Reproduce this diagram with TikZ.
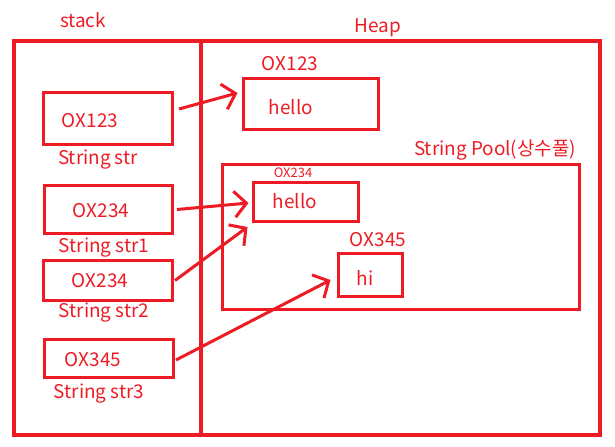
\documentclass[tikz,border=0pt]{standalone}
\usepackage{fontspec}
\setmainfont{Noto Sans CJK KR}
\usetikzlibrary{arrows.meta}
\definecolor{pr}{HTML}{ED1C24}
\begin{document}
\begin{tikzpicture}[x=1bp,y=-1bp,
  lbl/.style={text=pr, font=\fontsize{19}{19}\selectfont, inner sep=0pt},
  tiny/.style={text=pr, font=\fontsize{13}{13}\selectfont, inner sep=0pt},
  cell/.style={draw=pr, line width=3bp, inner sep=0pt, outer sep=0pt},
  ptr/.style={draw=pr, line width=3bp, -{Straight Barb[length=12bp,width=26bp,line width=3bp]}}]
\useasboundingbox (0,0) rectangle (615,447);
% outer frame and divider
\node[draw=pr, line width=4bp, minimum width=586bp, minimum height=394bp, inner sep=0pt] (frame) at (307,238) {};
\coordinate (dtop) at (201,41);
\coordinate (dbot) at (201,435);
\draw[draw=pr, line width=4bp] (dtop) -- (dbot);
\node[lbl] (stacklbl) at (83,20) {stack};
\node[lbl] (heaplbl) at (378,28) {Heap};
% stack cells
\node[cell, minimum width=129bp, minimum height=52bp] (s0) at (108,118.5) {};
\node[cell, minimum width=128bp, minimum height=48bp] (s1) at (108.5,209.5) {};
\node[cell, minimum width=129bp, minimum height=40bp] (s2) at (108,280.5) {};
\node[cell, minimum width=129bp, minimum height=38bp] (s3) at (109,358.5) {};
\node[lbl] (t0) at (90,121) {OX123};
\node[lbl] (t1) at (101,211) {OX234};
\node[lbl] (t2) at (100,281) {OX234};
\node[lbl] (t3) at (93,360) {OX345};
\node[lbl] (n0) at (98,160) {String str};
\node[lbl] (n1) at (104,248) {String str1};
\node[lbl] (n2) at (104,313) {String str2};
\node[lbl] (n3) at (99,394) {String str3};
% heap
\node[cell, minimum width=135bp, minimum height=51bp] (h0) at (311,104) {};
\node[lbl] (a0) at (290,64) {OX123};
\node[lbl] (v0) at (291,107) {hello};
\node[cell, minimum width=357bp, minimum height=145bp] (pool) at (401,237) {};
\node[lbl] (poollbl) at (495,150) {String Pool(상수풀)};
\node[cell, minimum width=105bp, minimum height=39bp] (h1) at (306,202) {};
\node[tiny] (a1) at (293,173) {OX234};
\node[lbl] (v1) at (295,201) {hello};
\node[cell, minimum width=64bp, minimum height=43bp] (h2) at (370.5,275) {};
\node[lbl] (a2) at (378,240) {OX345};
\node[lbl] (v2) at (365,278) {hi};
% pointers
\draw[ptr] ([shift={(6.5,-9.5)}]s0.east) -- ([shift={(-6,-11)}]h0.west);
\draw[ptr] ([shift={(4.5,0)}]s1.east) -- ([shift={(-5,1)}]h1.west);
\draw[ptr] ([shift={(2.5,0)}]s2.east) -- ([shift={(-6,5.5)}]h1.south west);
\draw[ptr] ([shift={(2.5,1.5)}]s3.east) -- ([shift={(-8,5)}]h2.west);
\end{tikzpicture}
\end{document}
